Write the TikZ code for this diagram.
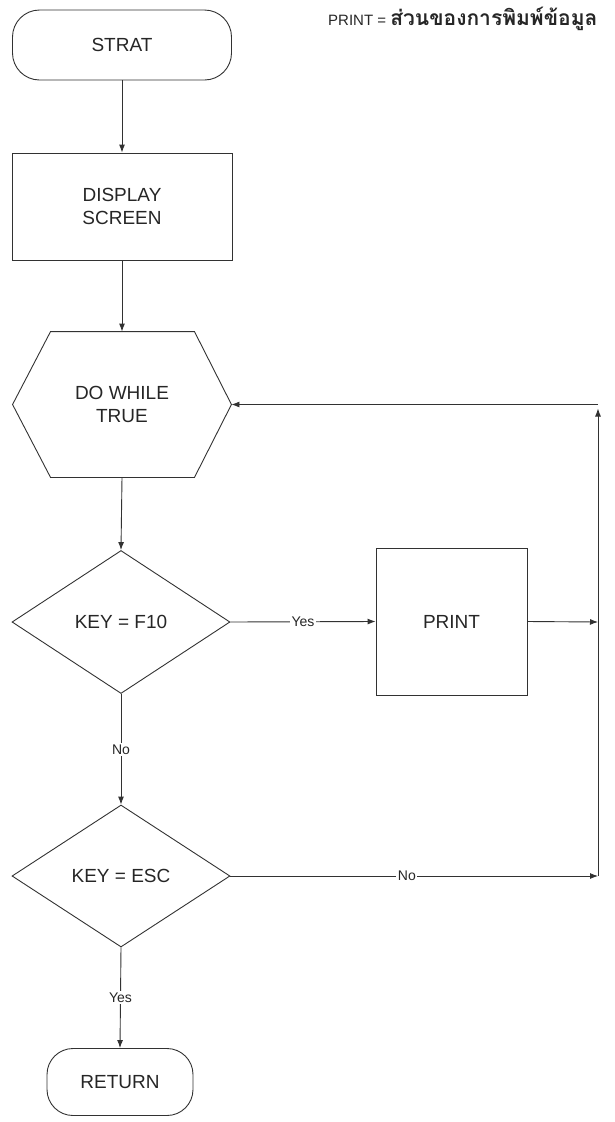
\documentclass[tikz,border=0pt]{standalone}
\usepackage{fontspec}
\setmainfont{Liberation Sans}
\newfontfamily\thaifont[Script=Thai]{Loma}
\usetikzlibrary{arrows.meta,shapes.geometric,calc}

\definecolor{ink}{RGB}{38,38,38}
\definecolor{linegray}{RGB}{50,50,50}

\begin{document}
\begin{tikzpicture}[x=1pt,y=-1pt,
  box/.style={draw=linegray, line width=0.9pt, rectangle, align=center,
    text=ink, font=\fontsize{19}{23}\selectfont, inner sep=0pt},
  term/.style={box, rounded corners=27pt},
  decision/.style={box, diamond, minimum width=218pt, minimum height=143pt},
  flow/.style={draw=linegray, line width=0.9pt, -{Latex[length=8pt,width=6pt]}},
  wire/.style={draw=linegray, line width=0.9pt},
  lab/.style={fill=white, text=ink, font=\fontsize{14}{16}\selectfont, inner sep=1.5pt}
]
\useasboundingbox (0,0) rectangle (615,1122);

% legend
\node[anchor=west, text=ink, font=\fontsize{15}{17}\selectfont, inner sep=0pt]
  (legend) at (328,19) {PRINT = {\thaifont\bfseries\fontsize{21}{23}\selectfont ส่วนของการพิมพ์ข้อมูล}};

% main column
\node[term, minimum width=219pt, minimum height=70pt] (start) at (122,45) {STRAT};
\node[box, minimum width=220pt, minimum height=107pt] (disp) at (122,206.5) {DISPLAY\\SCREEN};
\node[box, draw=none, minimum width=218pt, minimum height=145pt] (hex) at (122,404.5) {DO WHILE\\TRUE};
\draw[wire] ($(hex.north west)+(38,0)$) -- ($(hex.north east)+(-37,0)$) -- (hex.east)
  -- ($(hex.south east)+(-37,0)$) -- ($(hex.south west)+(38,0)$) -- (hex.west) -- cycle;
\node[decision] (dec1) at (121,622) {KEY = F10};
\node[box, minimum width=151pt, minimum height=147pt] (print) at (451.5,621.5) {PRINT};
\node[decision, minimum height=142pt] (dec2) at (121,876) {KEY = ESC};
\node[term, rounded corners=26pt, minimum width=146pt, minimum height=67pt] (ret) at (120,1082) {RETURN};

% return path on the right
\coordinate (jprint) at (598,622);
\coordinate (jesc) at (598,876);
\coordinate (jtop) at (598,404.5);

% connectors
\draw[flow] (start.south) -- (disp.north);
\draw[flow] (disp.south) -- (hex.north);
\draw[flow] (hex.south) -- (dec1.north);
\draw[flow] (dec1.east) -- node[lab] {Yes} (print.west);
\draw[flow] (print.east) -- (jprint);
\draw[flow] (dec1.south) -- node[lab] {No} (dec2.north);
\draw[flow] (dec2.east) -- node[lab, pos=0.48] {No} (jesc);
\draw[flow, shorten >=4pt] (jesc) -- (jtop);
\draw[flow] (jtop) -- (hex.east);
\draw[flow] (dec2.south) -- node[lab] {Yes} (ret.north);
\end{tikzpicture}
\end{document}
